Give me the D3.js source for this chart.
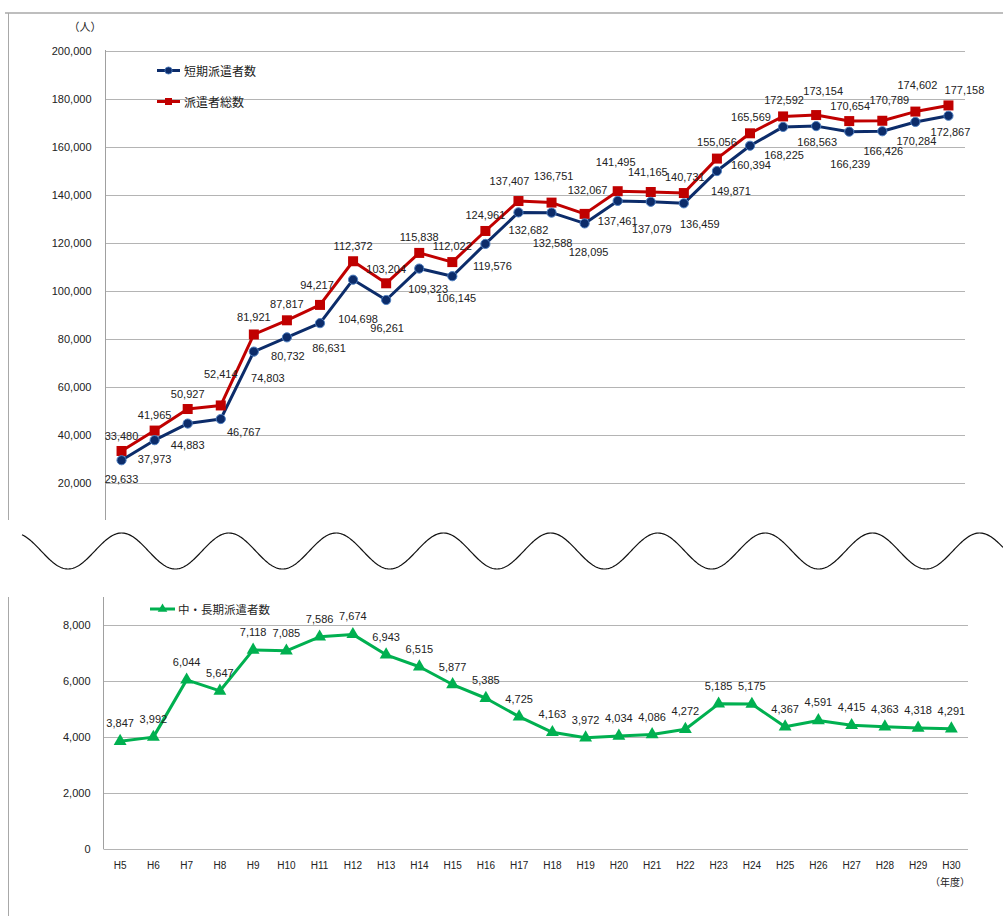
<!DOCTYPE html>
<html lang="ja">
<head>
<meta charset="utf-8">
<script src="https://cdn.jsdelivr.net/npm/d3@7/dist/d3.min.js"></script>
<style>
  html, body { margin: 0; padding: 0; background: #fff; }
  svg { display: block; }
  .num { font-family: "Liberation Sans", Arial, sans-serif; font-size: 11px; fill: #222; }
  .jp { font-family: "Noto Sans CJK JP", "Noto Sans", sans-serif; font-size: 11px; fill: #222; }
</style>
</head>
<body>
<svg id="chart" width="1003" height="916"></svg>
<script>
// Fiscal years (Heisei)
const years = ["H5","H6","H7","H8","H9","H10","H11","H12","H13","H14","H15","H16","H17",
  "H18","H19","H20","H21","H22","H23","H24","H25","H26","H27","H28","H29","H30"];

// 短期派遣者数
const shortTerm = [29633, 37973, 44883, 46767, 74803, 80732, 86631, 104698, 96261, 109323,
  106145, 119576, 132682, 132588, 128095, 137461, 137079, 136459, 149871, 160394,
  168225, 168563, 166239, 166426, 170284, 172867];

// 派遣者総数
const totalDispatch = [33480, 41965, 50927, 52414, 81921, 87817, 94217, 112372, 103204, 115838,
  112022, 124961, 137407, 136751, 132067, 141495, 141165, 140731, 155056, 165569,
  172592, 173154, 170654, 170789, 174602, 177158];

// 中・長期派遣者数
const midLongTerm = [3847, 3992, 6044, 5647, 7118, 7085, 7586, 7674, 6943, 6515, 5877, 5385,
  4725, 4163, 3972, 4034, 4086, 4272, 5185, 5175, 4367, 4591, 4415, 4363, 4318, 4291];

const topTicks = [20000, 40000, 60000, 80000, 100000, 120000, 140000, 160000, 180000, 200000];
const bottomTicks = [0, 2000, 4000, 6000, 8000];

// Hand-placed nudges [dx, dy] for the value labels so they clear the lines
const shortLabelShift = [[0,19],[0,19],[0,21],[23,13],[14,26],[1,19],[9,25],[5,39],[1,28],[9,20],
  [4,22],[7,22],[10,18],[1,30],[4,29],[0,20],[1,27],[16,21],[14,20],[1,19],
  [1,28],[1,16],[1,32],[1,20],[1,19],[2,16]];
const totalLabelShift = [[0,-15],[0,-16],[0,-15],[0,-31],[0,-17],[0,-16],[-3,-20],[0,-15],[0,-14],[0,-16],
  [0,-16],[0,-16],[-9,-20],[2,-27],[3,-24],[-2,-29],[-3,-20],[1,-16],[0,-17],[1,-16],
  [1,-16],[7,-24],[1,-15],[7,-21],[2,-27],[16,-15]];

const svg = d3.select("#chart");
const fmt = d3.format(",");

const NAVY = "#0c2c6a", NAVY_EDGE = "#4f7fc0", RED = "#c00000", GREEN = "#00b050";
const GRID = "#b4b4b4", AXIS = "#a0a0a0";

// ---------- outer frame ----------
svg.append("line").attr("x1", 5).attr("x2", 1003).attr("y1", 13).attr("y2", 13)
  .attr("stroke", "#a8a8a8").attr("stroke-width", 1.3);
svg.append("line").attr("x1", 8.5).attr("x2", 8.5).attr("y1", 13).attr("y2", 520)
  .attr("stroke", "#a8a8a8").attr("stroke-width", 1);
svg.append("line").attr("x1", 8.5).attr("x2", 8.5).attr("y1", 597).attr("y2", 916)
  .attr("stroke", "#a8a8a8").attr("stroke-width", 1);

// ---------- upper panel: 短期 / 総数 ----------
const xTop = d3.scaleBand().domain(years).range([105, 965]);
const yTop = d3.scaleLinear().domain([0, 200000]).range([531.5, 50.5]);
const cxTop = d => xTop(d) + xTop.bandwidth() / 2;

const upperG = svg.append("g");
upperG.append("g").selectAll("line").data(topTicks).join("line")
  .attr("x1", 105).attr("x2", 965)
  .attr("y1", d => Math.round(yTop(d)) + 0.5).attr("y2", d => Math.round(yTop(d)) + 0.5)
  .attr("stroke", GRID).attr("stroke-width", 1);

const yAxisTop = d3.axisLeft(yTop).tickValues(topTicks).tickFormat(fmt).tickSize(0).tickPadding(14);
const gyt = upperG.append("g").attr("transform", "translate(105.5,0)").call(yAxisTop);
gyt.select(".domain").remove();
gyt.selectAll("text").attr("class", "num").attr("fill", null).style("font-size", "11px");
upperG.append("line").attr("x1", 105.5).attr("x2", 105.5).attr("y1", 50).attr("y2", 520)
  .attr("stroke", AXIS).attr("stroke-width", 1);

upperG.append("text").attr("class", "jp").attr("x", 85).attr("y", 31)
  .attr("text-anchor", "middle").text("（人）");

const lineTop = vals => d3.line().x((d, i) => cxTop(years[i])).y(d => yTop(d))(vals);

upperG.append("path").attr("d", lineTop(totalDispatch)).attr("fill", "none")
  .attr("stroke", RED).attr("stroke-width", 3).attr("stroke-linejoin", "round");
upperG.append("path").attr("d", lineTop(shortTerm)).attr("fill", "none")
  .attr("stroke", NAVY).attr("stroke-width", 3).attr("stroke-linejoin", "round");

upperG.append("g").selectAll("rect").data(totalDispatch).join("rect")
  .attr("x", (d, i) => cxTop(years[i]) - 5).attr("y", d => yTop(d) - 5)
  .attr("width", 10).attr("height", 10).attr("fill", RED);
upperG.append("g").selectAll("circle").data(shortTerm).join("circle")
  .attr("cx", (d, i) => cxTop(years[i])).attr("cy", d => yTop(d))
  .attr("r", 4.6).attr("fill", NAVY).attr("stroke", NAVY_EDGE).attr("stroke-width", 1);

upperG.append("g").selectAll("text").data(totalDispatch).join("text")
  .attr("class", "num").attr("text-anchor", "middle").attr("dominant-baseline", "central")
  .attr("x", (d, i) => cxTop(years[i]) + totalLabelShift[i][0])
  .attr("y", (d, i) => yTop(d) + totalLabelShift[i][1])
  .text(d => fmt(d));
upperG.append("g").selectAll("text").data(shortTerm).join("text")
  .attr("class", "num").attr("text-anchor", "middle").attr("dominant-baseline", "central")
  .attr("x", (d, i) => cxTop(years[i]) + shortLabelShift[i][0])
  .attr("y", (d, i) => yTop(d) + shortLabelShift[i][1])
  .text(d => fmt(d));

// legend (upper)
const legTop = upperG.append("g");
legTop.append("line").attr("x1", 157).attr("x2", 180).attr("y1", 70.5).attr("y2", 70.5)
  .attr("stroke", NAVY).attr("stroke-width", 3);
legTop.append("circle").attr("cx", 168.5).attr("cy", 70.5).attr("r", 3.6)
  .attr("fill", NAVY).attr("stroke", NAVY_EDGE).attr("stroke-width", 0.8);
legTop.append("text").attr("class", "jp").style("font-size", "12px").attr("x", 184).attr("y", 70.5)
  .attr("dominant-baseline", "central").text("短期派遣者数");
legTop.append("line").attr("x1", 157).attr("x2", 180).attr("y1", 101.5).attr("y2", 101.5)
  .attr("stroke", RED).attr("stroke-width", 3);
legTop.append("rect").attr("x", 165).attr("y", 98).attr("width", 7).attr("height", 7).attr("fill", RED);
legTop.append("text").attr("class", "jp").style("font-size", "12px").attr("x", 184).attr("y", 101.5)
  .attr("dominant-baseline", "central").text("派遣者総数");

// ---------- axis break wave ----------
const waveX = d3.range(22, 1004, 1);
svg.append("path")
  .attr("d", d3.line().x(d => d).y(d => 551 + 18 * Math.cos(2 * Math.PI * (d - 68) / 107.25))(waveX))
  .attr("fill", "none").attr("stroke", "#111").attr("stroke-width", 1.2);

// ---------- lower panel: 中・長期 ----------
const xBot = d3.scaleBand().domain(years).range([103.5, 968]);
const yBot = d3.scaleLinear().domain([0, 9000]).range([848.5, 597.4]);
const cxBot = d => xBot(d) + xBot.bandwidth() / 2;

const lowerG = svg.append("g");
lowerG.append("g").selectAll("line").data(bottomTicks).join("line")
  .attr("x1", 103.5).attr("x2", 968)
  .attr("y1", d => Math.round(yBot(d)) + 0.5).attr("y2", d => Math.round(yBot(d)) + 0.5)
  .attr("stroke", GRID).attr("stroke-width", 1);

const yAxisBot = d3.axisLeft(yBot).tickValues(bottomTicks).tickFormat(fmt).tickSize(0).tickPadding(13);
const gyb = lowerG.append("g").attr("transform", "translate(103.5,0)").call(yAxisBot);
gyb.select(".domain").remove();
gyb.selectAll("text").attr("class", "num").attr("fill", null).style("font-size", "11px");
lowerG.append("line").attr("x1", 103.5).attr("x2", 103.5).attr("y1", 597).attr("y2", 849)
  .attr("stroke", AXIS).attr("stroke-width", 1);

const xAxisBot = d3.axisBottom(xBot).tickSize(0).tickPadding(13);
const gxb = lowerG.append("g").attr("transform", "translate(0,849)").call(xAxisBot);
gxb.select(".domain").remove();
gxb.selectAll("text").attr("class", "num").attr("fill", null).style("font-size", "10px");
lowerG.append("text").attr("class", "jp").style("font-size", "10px")
  .attr("x", 950).attr("y", 886).attr("text-anchor", "middle").text("（年度）");

lowerG.append("path")
  .attr("d", d3.line().x((d, i) => cxBot(years[i])).y(d => yBot(d))(midLongTerm))
  .attr("fill", "none").attr("stroke", GREEN).attr("stroke-width", 3).attr("stroke-linejoin", "round");

const tri = d3.symbol().type(d3.symbolTriangle).size(72);
lowerG.append("g").selectAll("path").data(midLongTerm).join("path")
  .attr("d", tri)
  .attr("transform", (d, i) => `translate(${cxBot(years[i])},${yBot(d)})`)
  .attr("fill", GREEN);

lowerG.append("g").selectAll("text").data(midLongTerm).join("text")
  .attr("class", "num").attr("text-anchor", "middle").attr("dominant-baseline", "central")
  .attr("x", (d, i) => cxBot(years[i]))
  .attr("y", d => yBot(d) - 18)
  .text(d => fmt(d));

// legend (lower)
const legBot = lowerG.append("g");
legBot.append("line").attr("x1", 150).attr("x2", 175).attr("y1", 609).attr("y2", 609)
  .attr("stroke", GREEN).attr("stroke-width", 3);
legBot.append("path").attr("d", d3.symbol().type(d3.symbolTriangle).size(40))
  .attr("transform", "translate(162.5,609)").attr("fill", GREEN);
legBot.append("text").attr("class", "jp").style("font-size", "11.5px").attr("x", 178).attr("y", 609)
  .attr("dominant-baseline", "central").text("中・長期派遣者数");
</script>
</body>
</html>
